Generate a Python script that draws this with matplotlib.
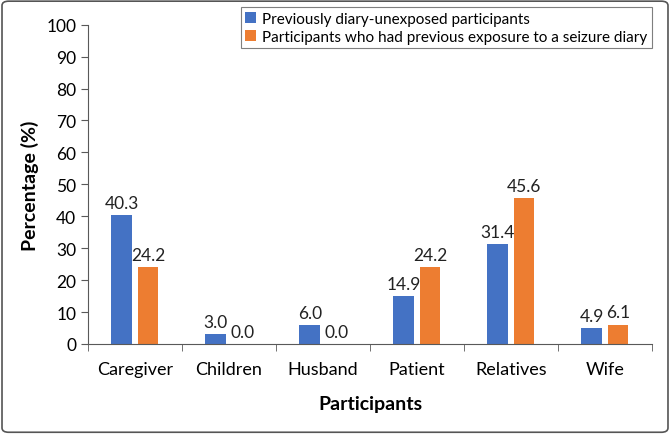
import matplotlib.pyplot as plt
import numpy as np
from matplotlib.patches import FancyBboxPatch

plt.rcParams['font.family'] = ['Lato', 'DejaVu Sans']

categories = ['Caregiver', 'Children', 'Husband', 'Patient', 'Relatives', 'Wife']
unexposed = [40.3, 3.0, 6.0, 14.9, 31.4, 4.9]
exposed = [24.2, 0.0, 0.0, 24.2, 45.6, 6.1]
series_names = ['Previously diary-unexposed participants',
                'Participants who had previous exposure to a seizure diary']

BLUE = '#4472C4'
ORANGE = '#ED7D31'
AXIS = '#595959'

fig = plt.figure(figsize=(6.7, 4.35), dpi=100)
ax = fig.add_axes([0.1313, 0.2069, 0.8417, 0.7341])

x = np.arange(len(categories))
w = 0.22
gap = 0.03
b1 = ax.bar(x - w / 2 - gap, unexposed, w, color=BLUE, label=series_names[0])
b2 = ax.bar(x + w / 2 + gap, exposed, w, color=ORANGE, label=series_names[1])

for bars in (b1, b2):
    for r in bars:
        ax.annotate('%.1f' % r.get_height(),
                    (r.get_x() + r.get_width() / 2, r.get_height()),
                    xytext=(0, 3), textcoords='offset points',
                    ha='center', va='bottom', fontsize=12.5, color='#222222')

ax.set_xlim(-0.5, len(categories) - 0.5)
ax.set_ylim(0, 100)
ax.set_yticks(range(0, 101, 10))
ax.set_xticks(x)
ax.set_xticklabels(categories, fontsize=13)
ax.set_xticks(np.arange(-0.5, len(categories)), minor=True)
ax.tick_params(axis='x', which='major', length=0, pad=12)
ax.tick_params(axis='x', which='minor', length=5, color=AXIS)
ax.tick_params(axis='y', labelsize=12.5, length=5, color=AXIS)

for s in ('top', 'right'):
    ax.spines[s].set_visible(False)
for s in ('left', 'bottom'):
    ax.spines[s].set_color(AXIS)

ax.set_ylabel('Percentage (%)', fontsize=14, fontweight='bold', labelpad=5)
ax.set_xlabel('Participants', fontsize=14, fontweight='bold', labelpad=13)

leg = ax.legend(loc='upper right', bbox_to_anchor=(1.0, 1.055), fontsize=11,
                fancybox=False, edgecolor='#7f7f7f', framealpha=1,
                handlelength=0.7, handleheight=0.7, handletextpad=0.4,
                borderpad=0.3, labelspacing=0.25, borderaxespad=0)
leg.get_frame().set_linewidth(0.8)

fig.patches.append(FancyBboxPatch((0.003, 0.004), 0.994, 0.991,
                                  boxstyle='round,pad=0,rounding_size=0.01',
                                  transform=fig.transFigure, fill=False,
                                  edgecolor='#555555', linewidth=1.2))

fig.savefig('out.png', dpi=100)
